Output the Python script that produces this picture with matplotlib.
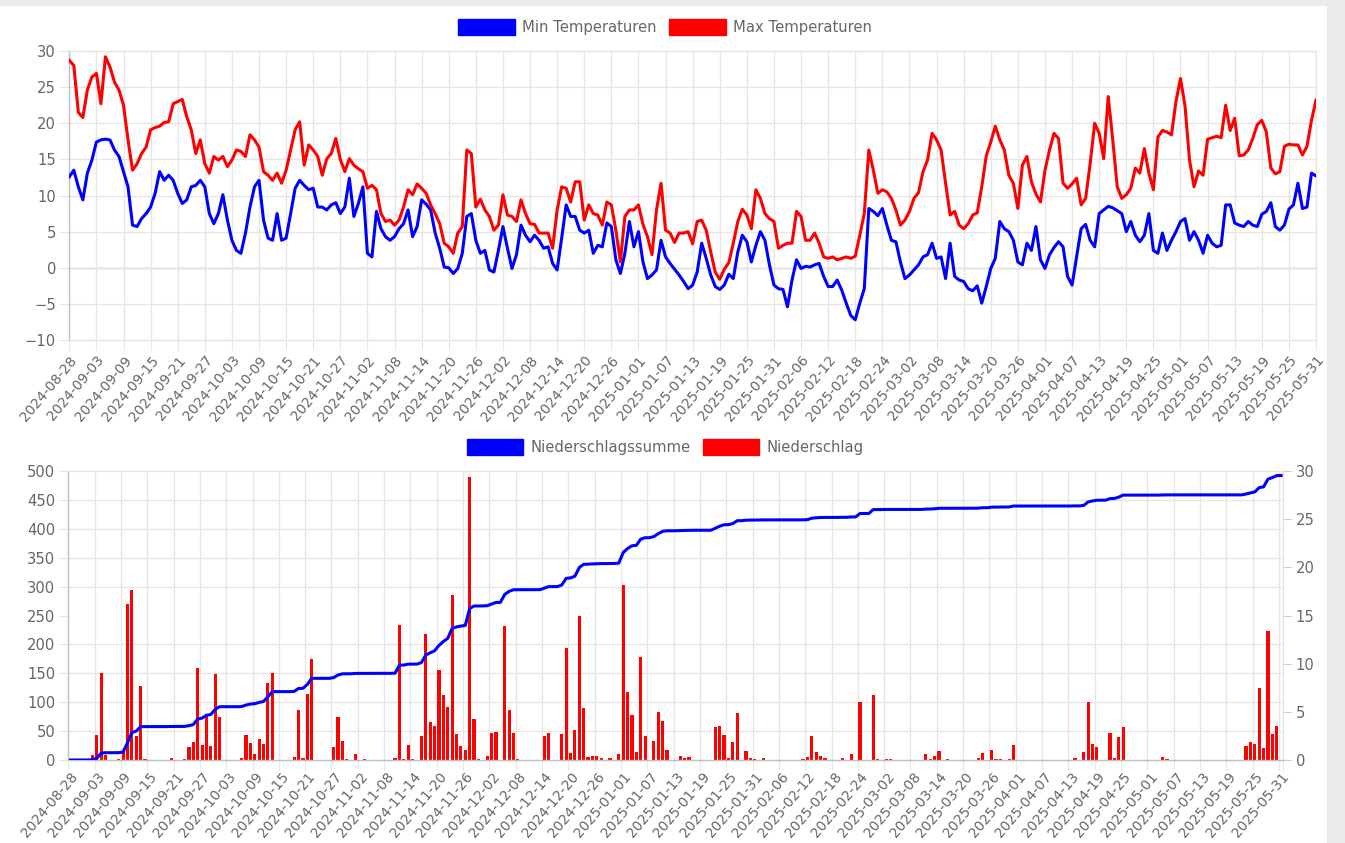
import numpy as np
import pandas as pd
import matplotlib
matplotlib.use('Agg')
import matplotlib.pyplot as plt
from matplotlib.patches import Patch, Rectangle

plt.rcParams['font.family'] = ['DejaVu Sans']

# one value per day, 2024-08-28 .. 2025-05-31
dates = pd.date_range('2024-08-28', '2025-05-31', freq='D').strftime('%Y-%m-%d').tolist()

min_temp = [
    12.6, 13.5, 11.2, 9.4, 13.1, 14.9, 17.4, 17.7, 17.8, 17.7,
    16.3, 15.4, 13.3, 11.2, 5.9, 5.7, 6.8, 7.5, 8.4, 10.3,
    13.3, 12.1, 12.8, 12.1, 10.3, 8.9, 9.4, 11.2, 11.4, 12.1,
    11.2, 7.5, 6.1, 7.5, 10.1, 6.6, 3.8, 2.4, 2.0, 4.8,
    8.4, 11.2, 12.1, 6.6, 4.1, 3.8, 7.5, 3.8, 4.1, 7.5,
    11.0, 12.1, 11.4, 10.8, 11.0, 8.4, 8.4, 8.0, 8.7, 9.0,
    7.5, 8.4, 12.4, 7.1, 8.9, 11.2, 2.0, 1.5, 7.8, 5.4,
    4.3, 3.8, 4.3, 5.4, 6.1, 8.0, 4.3, 5.7, 9.4, 8.8,
    8.0, 4.8, 2.7, 0.1, 0.0, -0.8, -0.1, 2.0, 7.1, 7.5,
    3.8, 2.0, 2.4, -0.3, -0.6, 2.4, 5.7, 2.7, -0.1, 1.8,
    5.9, 4.5, 3.6, 4.5, 3.8, 2.7, 2.9, 0.6, -0.3, 4.1,
    8.7, 7.1, 7.1, 5.2, 4.8, 5.2, 2.0, 3.1, 2.9, 6.2,
    5.7, 1.1, -0.8, 2.0, 6.4, 2.9, 5.0, 0.8, -1.5, -1.0,
    -0.3, 3.8, 1.5, 0.6, -0.2, -1.0, -1.9, -2.9, -2.4, -0.6,
    3.4, 1.3, -1.0, -2.6, -3.0, -2.4, -0.9, -1.5, 2.2, 4.5,
    3.6, 0.8, 3.1, 5.0, 3.8, 0.4, -2.4, -2.9, -3.0, -5.4,
    -1.7, 1.1, -0.1, 0.2, 0.1, 0.4, 0.6, -1.2, -2.6, -2.6,
    -1.7, -3.1, -4.9, -6.6, -7.2, -4.9, -2.9, 8.2, 7.8, 7.2,
    8.2, 5.9, 3.8, 3.6, 0.8, -1.5, -1.0, -0.3, 0.4, 1.5,
    1.8, 3.4, 1.3, 1.5, -1.5, 3.4, -1.2, -1.7, -1.9, -2.9,
    -3.2, -2.5, -4.9, -2.6, -0.1, 1.3, 6.4, 5.4, 5.0, 3.8,
    0.8, 0.4, 3.4, 2.4, 5.7, 1.1, -0.1, 1.8, 2.8, 3.6,
    2.9, -1.2, -2.4, 1.5, 5.4, 6.0, 3.8, 2.9, 7.5, 8.0,
    8.5, 8.3, 7.9, 7.5, 5.0, 6.4, 4.5, 3.6, 4.5, 7.5,
    2.4, 2.0, 4.8, 2.4, 3.8, 5.0, 6.4, 6.8, 3.8, 5.0,
    3.8, 2.0, 4.5, 3.4, 2.9, 3.1, 8.7, 8.7, 6.2, 5.9,
    5.7, 6.4, 5.9, 5.7, 7.4, 7.8, 9.0, 5.7, 5.2, 5.9,
    8.1, 8.7, 11.7, 8.2, 8.4, 13.1, 12.7,
]

max_temp = [
    28.7, 28.0, 21.5, 20.8, 24.6, 26.4, 26.9, 22.7, 29.2, 27.8,
    25.7, 24.6, 22.5, 17.7, 13.5, 14.4, 15.8, 16.7, 19.1, 19.4,
    19.6, 20.1, 20.2, 22.7, 23.0, 23.3, 20.9, 19.1, 15.8, 17.7,
    14.4, 13.1, 15.4, 14.9, 15.4, 14.0, 14.9, 16.3, 16.1, 15.4,
    18.4, 17.7, 16.7, 13.3, 12.8, 12.1, 13.1, 11.7, 13.5, 16.3,
    19.1, 20.2, 14.2, 17.0, 16.3, 15.4, 12.8, 15.1, 15.8, 17.9,
    15.0, 13.3, 15.1, 14.2, 13.7, 13.3, 11.0, 11.4, 10.8, 7.5,
    6.4, 6.6, 5.9, 6.6, 8.4, 10.8, 10.1, 11.6, 11.0, 10.3,
    8.7, 7.5, 6.1, 3.4, 2.9, 2.0, 4.8, 5.7, 16.3, 15.8,
    8.4, 9.5, 8.0, 7.1, 5.2, 5.9, 10.1, 7.3, 7.1, 6.4,
    9.4, 7.5, 6.1, 6.0, 4.8, 4.8, 4.8, 2.7, 8.0, 11.2,
    11.0, 9.1, 11.9, 11.9, 6.6, 8.7, 7.5, 7.3, 5.9, 9.1,
    8.7, 5.2, 0.8, 7.1, 8.0, 8.0, 8.7, 6.0, 4.3, 1.8,
    8.0, 11.7, 5.2, 4.8, 3.5, 4.8, 4.8, 5.0, 3.3, 6.4,
    6.6, 5.2, 2.2, -0.6, -1.6, -0.2, 0.7, 3.4, 6.4, 8.1,
    7.3, 5.4, 10.8, 9.6, 7.5, 6.8, 6.4, 2.7, 3.1, 3.4,
    3.4, 7.8, 7.1, 3.8, 3.8, 4.8, 3.4, 1.5, 1.3, 1.5,
    1.1, 1.3, 1.5, 1.3, 1.6, 4.5, 7.5, 16.3, 13.5, 10.3,
    10.8, 10.5, 9.6, 8.0, 5.9, 6.6, 7.8, 9.6, 10.4, 13.3,
    14.9, 18.6, 17.7, 16.3, 11.7, 7.3, 7.8, 5.9, 5.4, 6.1,
    7.3, 7.6, 11.2, 15.5, 17.4, 19.6, 17.7, 16.3, 12.8, 11.7,
    8.2, 14.2, 15.4, 11.9, 10.2, 9.1, 13.5, 16.3, 18.6, 17.9,
    11.7, 11.0, 11.6, 12.4, 8.7, 9.6, 14.4, 20.0, 18.6, 15.1,
    23.7, 17.7, 11.2, 9.6, 10.1, 11.0, 13.8, 13.1, 16.5, 13.1,
    10.8, 18.1, 19.0, 18.8, 18.4, 23.0, 26.2, 22.4, 14.9, 11.2,
    13.4, 12.8, 17.8, 18.0, 18.2, 18.0, 22.5, 19.0, 20.7, 15.5,
    15.6, 16.3, 17.9, 19.8, 20.4, 18.8, 13.8, 13.0, 13.3, 16.8,
    17.1, 17.0, 17.0, 15.6, 16.8, 20.4, 23.2,
]

# daily precipitation (mm), right axis
niederschlag = [
    0, 0, 0, 0, 0, 0.5, 2.6, 9.0, 0.5, 0,
    0, 0.1, 1.0, 16.2, 17.6, 2.5, 7.7, 0.1, 0, 0,
    0, 0, 0, 0.2, 0, 0, 0.1, 1.3, 1.9, 9.6,
    1.6, 4.8, 1.5, 8.9, 4.5, 0, 0, 0, 0, 0.2,
    2.6, 1.8, 0.6, 2.2, 1.7, 8.0, 9.0, 0, 0, 0,
    0, 0.3, 5.2, 0.2, 6.8, 10.5, 0, 0, 0, 0,
    1.3, 4.5, 2.0, 0.1, 0, 0.6, 0, 0.1, 0, 0,
    0.05, 0, 0, 0, 0.2, 14.0, 0.1, 1.6, 0.1, 0,
    2.5, 13.1, 3.9, 3.5, 9.3, 6.7, 5.5, 17.1, 2.7, 1.5,
    1.0, 29.4, 4.3, 0.1, 0, 0.4, 2.8, 2.9, 0, 13.9,
    5.2, 2.8, 0.1, 0, 0, 0.05, 0, 0, 2.5, 2.8,
    0, 0, 2.7, 11.6, 0.7, 3.1, 15.0, 5.4, 0.3, 0.4,
    0.4, 0.2, 0, 0.2, 0, 0.6, 18.2, 7.1, 4.7, 0.8,
    10.7, 2.5, 0, 2.0, 5.0, 4.0, 1.0, 0, 0, 0.4,
    0.2, 0.3, 0, 0, 0, 0, 0, 3.4, 3.5, 2.6,
    0.2, 1.9, 4.9, 0, 0.9, 0.2, 0.1, 0, 0.2, 0,
    0, 0, 0, 0, 0, 0, 0, 0.1, 0.3, 2.5,
    0.8, 0.4, 0.2, 0, 0, 0, 0.2, 0, 0.6, 0,
    6.0, 0, 0, 6.7, 0.1, 0, 0.1, 0.1, 0, 0,
    0, 0, 0, 0, 0, 0.6, 0.1, 0.4, 0.9, 0,
    0.1, 0, 0, 0, 0, 0, 0, 0.2, 0.7, 0,
    1.0, 0.1, 0.1, 0, 0.1, 1.6, 0, 0.05, 0, 0,
    0, 0, 0, 0, 0, 0, 0, 0, 0, 0.2,
    0, 0.8, 6.0, 1.7, 1.3, 0, 0.05, 2.8, 0.2, 2.4,
    3.4, 0, 0, 0, 0, 0, 0, 0, 0, 0.3,
    0.1, 0, 0, 0, 0, 0, 0, 0, 0, 0,
    0, 0, 0, 0, 0, 0, 0, 0, 1.5, 1.9,
    1.7, 7.5, 1.2, 13.4, 2.7, 3.5, 0,
]

BLUE = '#0000ff'
RED = '#ff0000'
GRID = '#e6e6e6'
ZERO = '#bfbfbf'
TXT = '#666666'
FS = 10.6      # y ticks, legends
FS_X = 10.0    # rotated date labels

W, H = 1345, 843
fig = plt.figure(figsize=(W / 100, H / 100), dpi=100)
fig.patch.set_facecolor('white')
# grey page edges
fig.patches.append(Rectangle((0, 1 - 5 / H), 1, 5 / H, transform=fig.transFigure, color='#ebebeb', zorder=0))
fig.patches.append(Rectangle((1327 / W, 0), 18 / W, 1, transform=fig.transFigure, color='#ebebeb', zorder=0))

x = np.arange(len(dates))
tick_idx = x[::6]
tick_lbl = dates[::6]


def style_spines(ax, left_color=ZERO, bottom_color=GRID):
    for s in ax.spines.values():
        s.set_color(GRID)
        s.set_linewidth(1)
    ax.spines['left'].set_color(left_color)
    ax.spines['bottom'].set_color(bottom_color)


# ---- top: temperatures
ax1 = fig.add_axes([69.3 / W, 1 - 340 / H, (1316 - 69.3) / W, 289 / H])
ax1.plot(x, min_temp, color=BLUE, lw=2.2, solid_joinstyle='round', zorder=3)
ax1.plot(x, max_temp, color=RED, lw=2.2, solid_joinstyle='round', zorder=3)
ax1.set_xlim(0, len(dates) - 1)
ax1.set_ylim(-10, 30)
ax1.set_yticks(range(-10, 31, 5))
ax1.set_xticks(tick_idx)
ax1.set_xticklabels(tick_lbl, rotation=50, ha='right', rotation_mode='anchor')
ax1.grid(color=GRID, lw=1, zorder=0)
ax1.axhline(0, color=ZERO, lw=1, zorder=1)
style_spines(ax1)
ax1.tick_params(length=7.5, color=GRID, labelcolor=TXT, labelsize=FS, pad=2)
ax1.tick_params(axis='x', labelsize=FS_X)

fig.legend(handles=[Patch(facecolor=BLUE, edgecolor=BLUE), Patch(facecolor=RED, edgecolor=RED)],
           labels=['Min Temperaturen', 'Max Temperaturen'], loc='center',
           bbox_to_anchor=(665 / W, 1 - 27 / H), ncol=2, frameon=False,
           handlelength=3.85, handleheight=1.25, handletextpad=0.47, columnspacing=0.85,
           fontsize=FS, labelcolor=TXT)

# ---- bottom: precipitation
rect = [68.3 / W, 1 - 760 / H, 1215 / W, 289 / H]
axb = fig.add_axes(rect)
axb.bar(x, niederschlag, width=0.72, color=RED, zorder=2)
axb.set_ylim(0, 30)
axb.set_xlim(-0.5, len(dates) - 0.5)
axb.yaxis.tick_right()
axb.set_yticks(range(0, 31, 5))
axb.set_yticks(np.arange(0, 31, 3), minor=True)
axb.set_xticks(np.append(tick_idx - 0.5, len(dates) - 0.5))
axb.set_xticklabels([])
axb.set_xticks(tick_idx, minor=True)
axb.set_xticklabels(tick_lbl, minor=True, rotation=50, ha='right', rotation_mode='anchor')
axb.grid(axis='y', which='minor', color=GRID, lw=1, zorder=0)
axb.grid(axis='x', which='major', color=GRID, lw=1, zorder=0)
axb.set_axisbelow(True)
style_spines(axb, bottom_color=ZERO)
axb.tick_params(axis='x', which='major', length=7.5, color=GRID)
axb.tick_params(axis='x', which='minor', length=0, labelcolor=TXT, labelsize=FS_X, pad=7)
axb.tick_params(axis='y', which='major', length=6, color='#cccccc', labelcolor=TXT, labelsize=FS, pad=3)
axb.tick_params(axis='y', which='minor', length=0)

axl = fig.add_axes(rect, sharex=axb)
axl.patch.set_visible(False)
axl.plot(x, np.cumsum(niederschlag), color=BLUE, lw=2.2, solid_joinstyle='round')
axl.set_ylim(0, 500)
axl.set_yticks(range(0, 501, 50))
axl.xaxis.set_visible(False)
for s in axl.spines.values():
    s.set_visible(False)
axl.tick_params(axis='y', length=7.5, color=GRID, labelcolor=TXT, labelsize=FS, pad=2)

fig.legend(handles=[Patch(facecolor=BLUE, edgecolor=BLUE), Patch(facecolor=RED, edgecolor=RED)],
           labels=['Niederschlagssumme', 'Niederschlag'], loc='center',
           bbox_to_anchor=(665 / W, 1 - 447 / H), ncol=2, frameon=False,
           handlelength=3.85, handleheight=1.25, handletextpad=0.47, columnspacing=0.85,
           fontsize=FS, labelcolor=TXT)

fig.savefig('out.png', dpi=100, facecolor=fig.get_facecolor())
